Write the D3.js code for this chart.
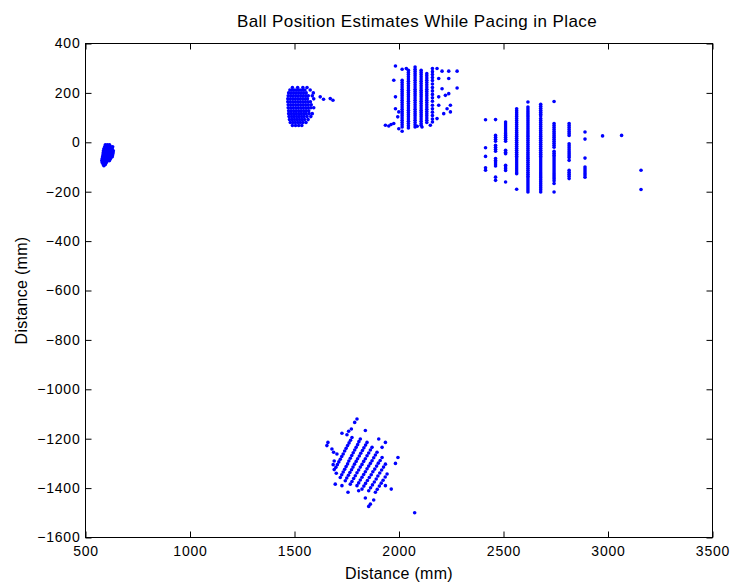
<!DOCTYPE html>
<html><head><meta charset="utf-8">
<script src="https://cdn.jsdelivr.net/npm/d3@7"></script>
<style>body{margin:0;background:#fff}svg{display:block}</style>
</head><body><svg id="c" width="733" height="582"></svg>
<script>
const title = "Ball Position Estimates While Pacing in Place";
const xLabel = "Distance (mm)";
const yLabel = "Distance (mm)";
const xTicks = [500, 1000, 1500, 2000, 2500, 3000, 3500];
const yTicks = [-1600, -1400, -1200, -1000, -800, -600, -400, -200, 0, 200, 400];

// cluster 1 (rows: [y, [x...]])
const cluster1Rows = [
  [-10, [595, 605, 615]],
  [-18, [592, 602, 612, 622, 630]],
  [-26, [588, 598, 608, 618, 628]],
  [-34, [586, 596, 606, 616, 626, 633]],
  [-42, [585, 595, 605, 615, 625, 632]],
  [-50, [584, 594, 604, 614, 624, 630]],
  [-58, [582, 592, 602, 612, 622, 628]],
  [-66, [580, 590, 600, 610, 620]],
  [-74, [578, 588, 598, 608, 615]],
  [-82, [580, 590, 600]],
  [-90, [585, 595]],
  [-95, [588]]
];

// cluster 2 (rows)
const cluster2Rows = [
  [222, [1490, 1515, 1540, 1560]],
  [212, [1478, 1490, 1502, 1514, 1526, 1538, 1550, 1575]],
  [200, [1472, 1484, 1496, 1508, 1520, 1532, 1544, 1556, 1590]],
  [188, [1470, 1482, 1494, 1506, 1518, 1530, 1542, 1554, 1566, 1585]],
  [176, [1468, 1480, 1492, 1504, 1516, 1528, 1540, 1552, 1562, 1592]],
  [164, [1468, 1480, 1492, 1504, 1516, 1528, 1540, 1552, 1564, 1576]],
  [152, [1470, 1482, 1494, 1506, 1518, 1530, 1542, 1554, 1566, 1580]],
  [140, [1470, 1482, 1494, 1506, 1518, 1530, 1542, 1554, 1566, 1578, 1592]],
  [128, [1472, 1484, 1496, 1508, 1520, 1532, 1544, 1556, 1568]],
  [116, [1472, 1484, 1496, 1508, 1520, 1532, 1544, 1556, 1570, 1585]],
  [104, [1474, 1486, 1498, 1510, 1522, 1534, 1546, 1560, 1578]],
  [92, [1476, 1488, 1500, 1512, 1524, 1536, 1548, 1565]],
  [80, [1480, 1492, 1504, 1516, 1528, 1540, 1555]],
  [68, [1490, 1505, 1520, 1535]]
];
const cluster2Extra = [[1623, 184], [1639, 174], [1671, 177], [1684, 170]];

// cluster 3 (columns: [x, [y...]])
const cluster3Cols = [
  [2015, [251, 242, 233, 224, 215, 206, 197, 188, 179, 170, 161, 152, 143, 134, 125, 116, 107, 98, 89, 80, 71, 62]],
  [2045, [292, 283, 274, 265, 256, 247, 238, 229, 220, 211, 202, 193, 184, 175, 166, 157, 148, 139, 130, 121, 112, 103, 94, 85, 76, 67, 58]],
  [2077, [305, 296, 287, 278, 269, 260, 251, 242, 233, 224, 215, 206, 197, 188, 179, 170, 161, 152, 143, 134, 125, 116, 107, 98, 89, 80, 71, 62]],
  [2106, [292, 283, 274, 265, 256, 247, 238, 229, 220, 211, 202, 193, 184, 175, 166, 157, 148, 139, 130, 121, 112, 103, 94, 85, 76, 69]],
  [2133, [278, 269, 260, 251, 242, 233, 224, 215, 206, 197, 188, 179, 170, 161, 152, 143, 134, 125, 116, 107, 98, 89, 80]],
  [2160, [299, 286, 274, 262, 250, 236, 222, 208, 194, 180, 166, 150, 136, 122, 108, 94, 82]]
];
const cluster3Extra = [
  [1983, 309], [2015, 296], [2035, 299], [1975, 251], [1983, 184], [1983, 136], [1999, 123], [1994, 103],
  [1935, 69], [1951, 66], [1962, 72], [1975, 76], [1999, 55], [2015, 45], [2182, 299], [2206, 288],
  [2238, 288], [2278, 288], [2190, 258], [2238, 258], [2206, 217], [2278, 220], [2190, 184], [2222, 190],
  [2238, 197], [2190, 150], [2230, 136], [2246, 150], [2214, 116], [2246, 123], [2182, 96], [2150, 69],
  [2110, 62], [2087, 65]
];

// cluster 4 (columns)
const cluster4Cols = [
  [2414, [91, -22, -57, -103, -113]],
  [2462, [92, 28, 20, 12, 4, -12, -20, -28, -36, -66, -74, -80, -88, -96, -141, -154]],
  [2510, [82, 74, 66, 58, 50, 42, 35, 28, 20, 12, 4, -32, -40, -46, -93, -100, -107, -114, -161]],
  [2563, [136, 128, 120, 112, 104, 96, 88, 80, 72, 64, 56, 48, 40, 32, 24, 16, 8, 0, -8, -16, -24, -32, -40, -48, -56, -64, -72, -80, -88, -96, -104, -112, -120, -127, -190]],
  [2617, [163, 143, 135, 127, 119, 111, 103, 95, 87, 79, 71, 63, 55, 47, 39, 31, 23, 15, 7, -1, -9, -17, -25, -33, -41, -49, -57, -65, -73, -81, -89, -97, -105, -113, -121, -129, -137, -145, -153, -161, -169, -177, -185, -193, -201]],
  [2678, [154, 146, 138, 130, 122, 114, 106, 96, 88, 80, 72, 64, 56, 48, 40, 32, 24, 16, 8, 0, -8, -16, -24, -32, -40, -48, -56, -64, -72, -80, -88, -96, -104, -112, -120, -128, -136, -144, -152, -160, -168, -176, -184, -192, -201]],
  [2742, [165, 76, 68, 60, 52, 44, 36, 28, 20, 12, 4, -4, -12, -20, -36, -44, -52, -60, -68, -76, -84, -92, -100, -108, -116, -124, -132, -140, -148, -156, -167, -201]],
  [2814, [76, 68, 60, 52, 44, 36, 28, -6, -14, -22, -30, -38, -46, -54, -62, -73, -113, -121, -129, -137, -147]],
  [2890, [42, 13, -64, -100, -108, -116, -124, -132, -141]],
  [2974, [26]],
  [3065, [28]],
  [3158, [-113, -191]]
];

// cluster 5 (points)
const cluster5Pts = [
  [1698, -1316], [1705, -1305], [1712, -1294], [1719, -1283], [1726, -1272], [1733, -1262], [1740, -1250], [1747, -1239], [1754, -1228], [1761, -1217], [1768, -1206], [1775, -1195],
  [1719, -1357], [1726, -1346], [1733, -1335], [1740, -1324], [1747, -1313], [1754, -1302], [1760, -1290], [1767, -1279], [1774, -1268], [1781, -1257], [1788, -1246], [1795, -1235], [1802, -1224], [1808, -1212], [1815, -1201],
  [1743, -1370], [1750, -1359], [1758, -1348], [1765, -1337], [1773, -1326], [1780, -1315], [1787, -1303], [1795, -1292], [1802, -1281], [1810, -1270], [1817, -1259], [1825, -1248], [1832, -1237], [1840, -1226], [1847, -1215],
  [1767, -1384], [1775, -1373], [1783, -1361], [1791, -1350], [1799, -1338], [1807, -1327], [1815, -1315], [1823, -1304], [1831, -1292], [1839, -1281], [1847, -1269], [1855, -1258], [1863, -1246], [1871, -1235],
  [1799, -1390], [1807, -1379], [1815, -1367], [1823, -1356], [1831, -1345], [1839, -1334], [1847, -1322], [1855, -1311], [1863, -1300], [1871, -1289], [1879, -1277], [1887, -1266], [1895, -1255],
  [1823, -1404], [1832, -1392], [1840, -1381], [1849, -1369], [1858, -1357], [1867, -1346], [1875, -1334], [1884, -1323], [1893, -1311], [1901, -1299], [1910, -1288], [1919, -1276],
  [1855, -1411], [1864, -1399], [1873, -1387], [1882, -1375], [1891, -1363], [1899, -1351], [1908, -1339], [1917, -1327], [1926, -1315], [1935, -1303],
  [1887, -1417], [1896, -1405], [1906, -1392], [1915, -1380], [1924, -1368], [1934, -1355], [1943, -1343],
  [1799, -1120], [1788, -1134], [1772, -1161], [1759, -1170], [1727, -1178], [1751, -1184], [1839, -1167],
  [1660, -1215], [1655, -1228], [1679, -1242], [1687, -1255], [1703, -1262], [1903, -1201], [1935, -1215],
  [1919, -1235], [1995, -1276], [1983, -1300], [1695, -1384], [1727, -1390], [1756, -1417], [1807, -1411],
  [1839, -1440], [1879, -1448], [1863, -1465], [1855, -1474], [1935, -1390], [1963, -1404],
  [1690, -1290], [1685, -1305], [1700, -1340], [1690, -1325],
  [2075, -1500]
];

// ---------- assemble points ----------
const pts = [];
cluster1Rows.forEach(([yy, xs]) => xs.forEach(xx => pts.push([xx, yy])));
cluster2Rows.forEach(([yy, xs]) => xs.forEach(xx => pts.push([xx, yy])));
cluster2Extra.forEach(p => pts.push(p));
cluster3Cols.forEach(([xx, ys]) => ys.forEach(yy => pts.push([xx, yy])));
cluster3Extra.forEach(p => pts.push(p));
cluster4Cols.forEach(([xx, ys]) => ys.forEach(yy => pts.push([xx, yy])));
cluster5Pts.forEach(p => pts.push(p));

const svg = d3.select("#c");
const m = {l: 85.5, r: 712.5, t: 43.5, b: 537.5};
const x = d3.scaleLinear().domain([500, 3500]).range([m.l, m.r]);
const y = d3.scaleLinear().domain([-1600, 400]).range([m.b, m.t]);
const FONT = "'Liberation Sans', Arial, Helvetica, sans-serif";
const fmt = d => (d < 0 ? "\u2212" + Math.abs(d) : String(d));

// points
svg.append("g").selectAll("circle").data(pts).join("circle")
  .attr("cx", d => x(d[0])).attr("cy", d => y(d[1])).attr("r", 1.8)
  .attr("fill", "#0000ff");

// axes
function styleAxis(g) {
  g.select(".domain").remove();
  g.selectAll("line").attr("stroke", "#000").attr("stroke-width", 1);
  g.selectAll("text").attr("font-family", FONT).attr("font-size", 14).attr("fill", "#000").style("letter-spacing", "0.8px");
}
svg.append("g").attr("transform", `translate(0,${m.b})`)
  .call(d3.axisBottom(x).tickValues(xTicks).tickSizeInner(-6).tickSizeOuter(0).tickPadding(9).tickFormat(fmt))
  .call(styleAxis);
svg.append("g").attr("transform", `translate(0,${m.t})`)
  .call(d3.axisTop(x).tickValues(xTicks).tickSizeInner(-6).tickSizeOuter(0).tickFormat(""))
  .call(styleAxis);
svg.append("g").attr("transform", `translate(${m.l},0)`)
  .call(d3.axisLeft(y).tickValues(yTicks).tickSizeInner(-6).tickSizeOuter(0).tickPadding(5).tickFormat(fmt))
  .call(styleAxis);
svg.append("g").attr("transform", `translate(${m.r},0)`)
  .call(d3.axisRight(y).tickValues(yTicks).tickSizeInner(-6).tickSizeOuter(0).tickFormat(""))
  .call(styleAxis);

// box
svg.append("rect").attr("x", m.l).attr("y", m.t).attr("width", m.r - m.l).attr("height", m.b - m.t)
  .attr("fill", "none").attr("stroke", "#000").attr("stroke-width", 1);

// labels
svg.append("text").attr("x", 417).attr("y", 27).attr("text-anchor", "middle")
  .attr("font-family", FONT).attr("font-size", 17).style("letter-spacing", "0.4px").text(title);
svg.append("text").attr("x", (m.l + m.r) / 2).attr("y", 579).attr("text-anchor", "middle")
  .attr("font-family", FONT).attr("font-size", 16).style("letter-spacing", "0.3px").text(xLabel);
svg.append("text").attr("transform", `translate(27,${(m.t + m.b) / 2}) rotate(-90)`).attr("text-anchor", "middle")
  .attr("font-family", FONT).attr("font-size", 16).style("letter-spacing", "0.3px").text(yLabel);
</script></body></html>
